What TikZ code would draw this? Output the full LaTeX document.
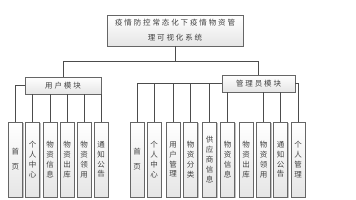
\documentclass[tikz,border=0pt]{standalone}
\usepackage{fontspec}
\newfontfamily\cjk[LetterSpace=25]{Noto Sans CJK SC}
\usetikzlibrary{shadows}
\begin{document}
\begin{tikzpicture}[x=1pt,y=-1pt,
  box/.style={draw=black!60, line width=0.7pt, top color=white, bottom color=black!10,
    drop shadow={shadow xshift=1.3pt, shadow yshift=-1.3pt, fill=black!40, opacity=0.6},
    font=\cjk\fontsize{7.5}{15}\selectfont, text=black!75, inner sep=0pt, align=center},
  leafbox/.style={box, minimum width=14, minimum height=75, font=\cjk\fontsize{7.5}{9.8}\selectfont},
  conn/.style={draw=black!70, line width=0.8pt}]
\useasboundingbox (0,0) rectangle (356,200);
% top and modules
\node[box, minimum width=136, minimum height=31] (top) at (175,30.5) {疫情防控常态化下疫情物资管\\理可视化系统};
\node[box, minimum width=76, minimum height=17] (user) at (63,85.5) {用户模块};
\node[box, minimum width=73, minimum height=17] (admin) at (258.5,83.5) {管理员模块};
% user leaves
\node[leafbox] (u1) at (15.5,159.5) {首\\[5pt]页};
\node[leafbox] (u2) at (32.5,159.5) {个\\人\\中\\心};
\node[leafbox] (u3) at (50,159.5) {物\\资\\信\\息};
\node[leafbox] (u4) at (67,159.5) {物\\资\\出\\库};
\node[leafbox] (u5) at (84,159.5) {物\\资\\领\\用};
\node[leafbox] (u6) at (101,159.5) {通\\知\\公\\告};
% admin leaves
\node[leafbox] (a1) at (137,159.5) {首\\[5pt]页};
\node[leafbox] (a2) at (154,159.5) {个\\人\\中\\心};
\node[leafbox] (a3) at (173,159.5) {用\\户\\管\\理};
\node[leafbox] (a4) at (190.5,159.5) {物\\资\\分\\类};
\node[leafbox] (a5) at (209.5,159.5) {供\\应\\商\\信\\息};
\node[leafbox] (a6) at (227.5,159.5) {物\\资\\信\\息};
\node[leafbox] (a7) at (246,159.5) {物\\资\\出\\库};
\node[leafbox] (a8) at (263.5,159.5) {物\\资\\领\\用};
\node[leafbox] (a9) at (280.5,159.5) {通\\知\\公\\告};
\node[leafbox] (a10) at (298,159.5) {个\\人\\管\\理};
% connectors
\coordinate (bus) at (0,61);
\draw[conn] (top.south) -- (top.south |- bus);
\draw[conn] (user.north) -- (user.north |- bus) -- (admin.north |- bus) -- (admin.north);
\draw[conn] (user.west) -| (u1.north);
\foreach \i in {2,...,6} \draw[conn] (u\i.north |- user.south) -- (u\i.north);
\draw[conn] (admin.west) -| (a1.north);
\foreach \i in {2,...,5} \draw[conn] (a\i.north |- admin.west) -- (a\i.north);
\foreach \i in {6,8,9} \draw[conn] (a\i.north |- admin.south) -- (a\i.north);
\draw[conn] (admin.east) -| (a10.north);
\end{tikzpicture}
\end{document}
